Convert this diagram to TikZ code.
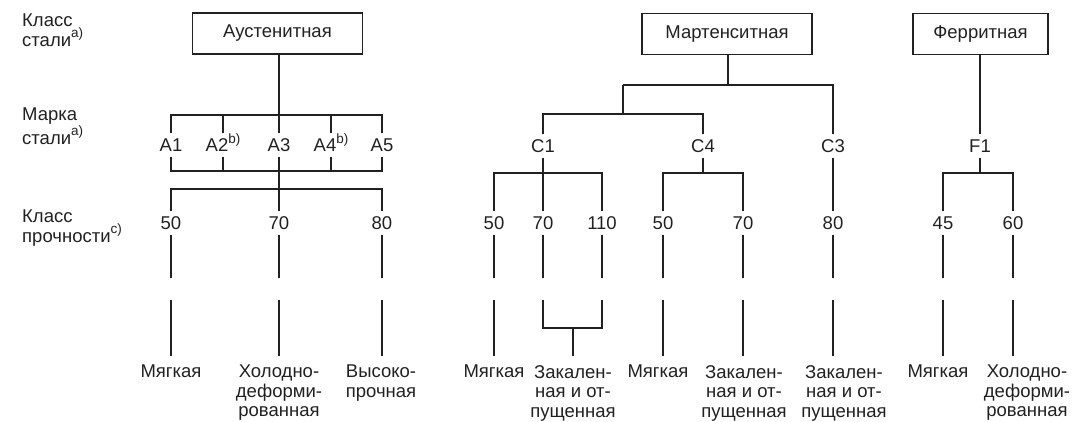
\documentclass[tikz,border=0pt]{standalone}
\usepackage{fontspec}
\setmainfont{Liberation Sans}
\definecolor{ink}{gray}{0.13}
\newcommand\myfs{\fontsize{18.5}{20}\selectfont}
\newcommand\myfsb{\fontsize{18.5}{19.5}\selectfont}
\newcommand\myfss{\fontsize{18.5}{18}\selectfont}
\newcommand\mysup[1]{\raisebox{8.5pt}{\fontsize{13.5}{13.5}\selectfont #1}}
\begin{document}
\begin{tikzpicture}[x=1pt,y=-1pt,
  every node/.style={text=ink},
  ln/.style={draw=ink,line width=1.4pt},
  cls/.style={draw=ink,line width=1.4pt,minimum height=41pt,inner sep=0pt,font=\myfs},
  lbl/.style={font=\myfs,inner xsep=0pt,inner ysep=5pt,text height=13pt,text depth=0pt},
  bot/.style={font=\myfsb,align=center,anchor=north,inner xsep=0pt,inner ysep=9pt},
  side/.style={font=\myfss,align=left,anchor=north west,inner sep=0pt}]
\useasboundingbox (0,0) rectangle (1072,421);

% side labels
\node[side] (s1) at (22,14) {Класс\\стали\mysup{a)}};
\node[side] (s2) at (22,108) {Марка\\стали\mysup{a)}};
\node[side] (s3) at (22,210) {Класс\\прочности\mysup{c)}};

% class boxes
\node[cls,minimum width=170pt] (boxA) at (277.5,33.5) {Аустенитная};
\node[cls,minimum width=170pt] (boxM) at (727,34) {Мартенситная};
\node[cls,minimum width=135pt] (boxF) at (980.5,34) {Ферритная};

% grades
\node[lbl] (A1) at (171,145) {A1};
\node[lbl] (A2) at (223,145) {A2\mysup{b)}};
\node[lbl] (A3) at (279,145) {A3};
\node[lbl] (A4) at (331,145) {A4\mysup{b)}};
\node[lbl] (A5) at (382,145) {A5};
\node[lbl] (C1) at (543,146) {C1};
\node[lbl] (C4) at (703,146) {C4};
\node[lbl] (C3) at (833,146) {C3};
\node[lbl] (F1) at (980,146) {F1};

% strength classes
\node[lbl] (a50) at (171,223) {50};
\node[lbl] (a70) at (279,223) {70};
\node[lbl] (a80) at (382,223) {80};
\node[lbl] (m50) at (494,223) {50};
\node[lbl] (m70) at (543,223) {70};
\node[lbl] (m110) at (602,223) {110};
\node[lbl] (n50) at (663,223) {50};
\node[lbl] (n70) at (743,223) {70};
\node[lbl] (m80) at (833,223) {80};
\node[lbl] (f45) at (943,223) {45};
\node[lbl] (f60) at (1013,223) {60};

% conditions
\node[bot] (La50) at (171,356) {Мягкая};
\node[bot] (La70) at (279,356) {Холодно-\\деформи-\\рованная};
\node[bot] (La80) at (381,356) {Высоко-\\прочная};
\node[bot] (Lm50) at (494,356) {Мягкая};
\node[bot] (Lm70) at (573,356) {Закален-\\ная и от-\\пущенная};
\node[bot] (Ln50) at (658,356) {Мягкая};
\node[bot] (Ln70) at (744,356) {Закален-\\ная и от-\\пущенная};
\node[bot] (Lm80) at (844,356) {Закален-\\ная и от-\\пущенная};
\node[bot] (Lf45) at (938,356) {Мягкая};
\node[bot] (Lf60) at (1027,356) {Холодно-\\деформи-\\рованная};

% junction coordinates
\coordinate (aTop) at (279,115);
\coordinate (aBot) at (279,171);
\coordinate (aBar) at (279,189);
\coordinate (mTop) at (728,85);
\coordinate (mJ) at (623,85);
\coordinate (mJ2) at (623,114);
\coordinate (bC1) at (543,173);
\coordinate (bC4) at (703,173);
\coordinate (bF) at (980,173);
\coordinate (kb) at (573,328);

% austenitic tree
\draw[ln] (A3.north |- boxA.south) -- (A3.north);
\draw[ln] (A1.north) |- (aTop) -| (A5.north);
\draw[ln] (A2.north) -- (A2.north |- aTop);
\draw[ln] (A4.north) -- (A4.north |- aTop);
\draw[ln] (A1.south) |- (aBot) -| (A5.south);
\draw[ln] (A2.south) -- (A2.south |- aBot);
\draw[ln] (A4.south) -- (A4.south |- aBot);
\draw[ln] (A3.south) -- (a70.north);
\draw[ln] (a50.north) |- (aBar) -| (a80.north);

% martensitic tree
\draw[ln] (mTop |- boxM.south) -- (mTop);
\draw[ln] (mJ) -| (C3.north);
\draw[ln] (mJ) -- (mJ2);
\draw[ln] (C1.north) |- (mJ2) -| (C4.north);
\draw[ln] (C1.south) -- (m70.north);
\draw[ln] (m50.north) |- (bC1) -| (m110.north);
\draw[ln] (C4.south) -- (bC4);
\draw[ln] (n50.north) |- (bC4) -| (n70.north);
\draw[ln] (C3.south) -- (m80.north);

% ferritic tree
\draw[ln] (F1.north |- boxF.south) -- (F1.north);
\draw[ln] (F1.south) -- (bF);
\draw[ln] (f45.north) |- (bF) -| (f60.north);

% lower segments
\foreach \n/\x in {a50/171,a70/279,a80/382,m50/494,m70/543,m110/602,n50/663,n70/743,m80/833,f45/943,f60/1013}{
  \coordinate (\n u) at (\x,278);
  \coordinate (\n d) at (\x,300);
  \draw[ln] (\n.south) -- (\n u);
}
\draw[ln] (a50d) -- (a50d |- La50.north);
\draw[ln] (a70d) -- (a70d |- La70.north);
\draw[ln] (a80d) -- (a80d |- La80.north);
\draw[ln] (m50d) -- (m50d |- Lm50.north);
\draw[ln] (m70d) |- (kb) -| (m110d);
\draw[ln] (kb) -- (kb |- Lm70.north);
\draw[ln] (n50d) -- (n50d |- Ln50.north);
\draw[ln] (n70d) -- (n70d |- Ln70.north);
\draw[ln] (m80d) -- (m80d |- Lm80.north);
\draw[ln] (f45d) -- (f45d |- Lf45.north);
\draw[ln] (f60d) -- (f60d |- Lf60.north);
\end{tikzpicture}
\end{document}
